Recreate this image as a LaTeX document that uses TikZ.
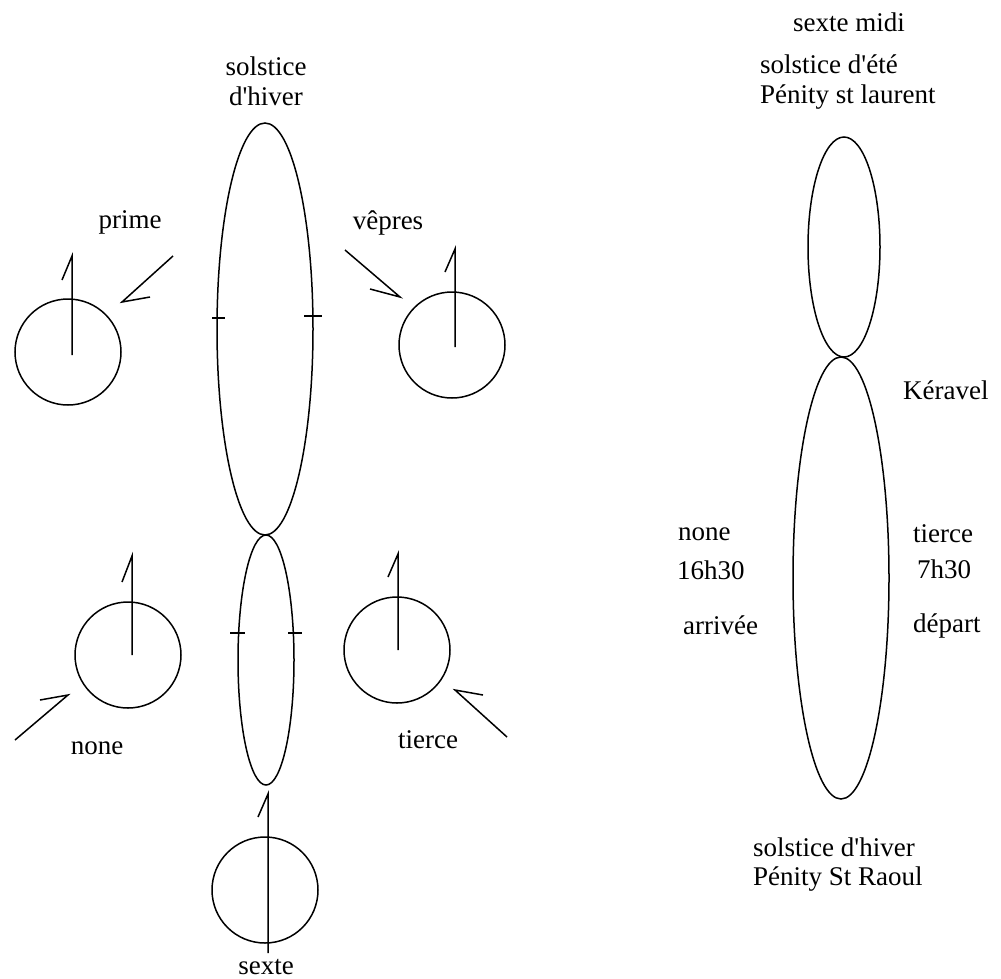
\documentclass[tikz,border=0pt]{standalone}
\usepackage{fontspec}
\setmainfont{Liberation Serif}[Ligatures=TeXOff]
\begin{document}
\begin{tikzpicture}[x=1pt,y=-1pt,
  ln/.style={line width=1.5pt,black},
  lbl/.style={inner sep=0pt,font=\fontsize{27}{30}\selectfont}]
\useasboundingbox (0,0) rectangle (1001,978);
% left: big ellipses
\draw[ln] (265,329) ellipse [x radius=48, y radius=206];
\draw[ln] (266,660) ellipse [x radius=28, y radius=125];
\draw[ln] (212,318) -- (225,318);
\draw[ln] (304,316) -- (322,316);
\draw[ln] (230,633) -- (245,633);
\draw[ln] (288,633) -- (302,633);
% prime
\draw[ln] (68,352) circle [radius=53];
\draw[ln] (72,355) -- (72,256) -- (62,280);
\draw[ln] (173,256) -- (122,302) -- (150,297);
\node[lbl] (prime) at (130,222) {prime};
% vepres
\draw[ln] (452,345) circle [radius=53];
\draw[ln] (455,347) -- (455,249) -- (445,272);
\draw[ln] (345,250) -- (400,297) -- (370,289);
\node[lbl] (vepres) at (388,223) {vêpres};
% none
\draw[ln] (128,655) circle [radius=53];
\draw[ln] (132,655) -- (132,556) -- (122,582);
\draw[ln] (15,740) -- (68,695) -- (40,700);
\node[lbl] (none) at (97,748) {none};
% tierce
\draw[ln] (397,650) circle [radius=53];
\draw[ln] (398,650) -- (398,554) -- (388,577);
\draw[ln] (507,737) -- (455,690) -- (483,695);
\node[lbl] (tierce) at (428,740) {tierce};
% sexte
\draw[ln] (265,890) circle [radius=53];
\draw[ln] (268,953) -- (268,794) -- (258,817);
\node[lbl,anchor=base] (sexte) at (266,974) {sexte};
\node[lbl] (solstice) at (266,66) {solstice};
\node[lbl] (dhiver) at (266,96) {d'hiver};
% right
\draw[ln] (844,247) ellipse [x radius=36, y radius=110];
\draw[ln] (841,578) ellipse [x radius=48, y radius=221];
\node[lbl,anchor=west] (sextemidi) at (793,22) {sexte midi};
\node[lbl,anchor=west] (ete) at (760,64) {solstice d'été};
\node[lbl,anchor=west] (laurent) at (760,97) {Pénity st laurent};
\node[lbl,anchor=west] (keravel) at (903,390) {Kéravel};
\node[lbl,anchor=west] (noneR) at (678,534) {none};
\node[lbl,anchor=west] (h1630) at (677,570) {16h30};
\node[lbl,anchor=west] (arrivee) at (683,625) {arrivée};
\node[lbl,anchor=west] (tierceR) at (913,534) {tierce};
\node[lbl,anchor=west] (h730) at (917,569) {7h30};
\node[lbl,anchor=west] (depart) at (913,626) {départ};
\node[lbl,anchor=west] (hiverR) at (753,847) {solstice d'hiver};
\node[lbl,anchor=west] (raoul) at (753,879) {Pénity St Raoul};
\end{tikzpicture}
\end{document}
